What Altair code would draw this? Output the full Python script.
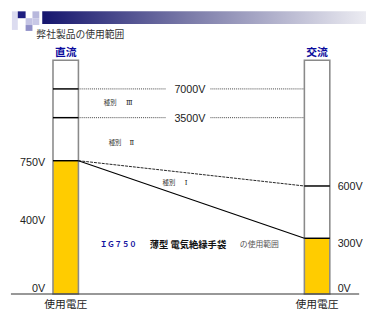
import altair as alt
import pandas as pd

# ---------------- data ----------------
columns = ["直流", "交流"]
column_caption = "使用電圧"
column_top_v = 10000
fill_top_v = [750, 300]
dc_levels = [7000, 3500, 750]
ac_levels = [600, 300]
dc_tick_v = [750, 400, 0]
dc_tick_text = ["750V", "400V", "0V"]
ac_tick_v = [600, 300, 0]
ac_tick_text = ["600V", "300V", "0V"]
guide_v = [7000, 3500]
guide_text = ["7000V", "3500V"]
slope_start_v = 750
slope_end_v = [600, 300]
class_word = ["種別", "種別", "種別"]
class_num = ["Ⅲ", "Ⅱ", "Ⅰ"]
class_v = [5250, 1900, 620]
title_text = "弊社製品の使用範囲"
product_code = "ＩＧ７５０"
product_name = "薄型 電気絶縁手袋"
product_tail = "の使用範囲"
product_v = 262

# ---------------- layout ----------------
W, H = 366, 306
col_x0 = [46, 303]
col_x1 = [72, 329]
col_cx = [59, 316]
guide_seg_x = [(72, 162), (207, 303)]
guide_label_x = 186
dc_label_x = 38
ac_label_x = 337
tick_dy_dc = [2, 1, -5]
tick_dy_ac = [1.5, 6, -5]
class_x = [98, 103, 158]
class_num_x = [124, 126.5, 182]
product_x = [94, 145, 237]

JP = "Noto Sans CJK JP"
LAT = "Liberation Sans"
SER = "DejaVu Serif"

px = alt.Scale(domain=[0, W], range=[0, W])
py = alt.Scale(domain=[0, H], range=[0, H])
vy = alt.Scale(domain=[0, 400, 750, 3500, 7000, 10000],
               range=[289, 213, 152.7, 108.7, 79.3, 50], nice=False, zero=False)


def X(f):
    return alt.X(f, type="quantitative", scale=px, axis=None)


def YV(f):
    return alt.Y(f, type="quantitative", scale=vy, axis=None)


def YP(f):
    return alt.Y(f, type="quantitative", scale=py, axis=None)


layers = []

# header decoration
deco = pd.DataFrame({
    "x": [4, 10, 18, 18, 25, 25],
    "x2": [10, 18, 25, 25, 32, 32],
    "y": [0, 0, 7, 14, 0, 7],
    "y2": [19, 7, 14, 20, 7, 14],
    "c": ["#dcdcf0", "#1e1e80", "#c4c4e4", "#9090c8", "#b8b8dc", "#c8c8e6"],
})
layers.append(alt.Chart(deco).mark_rect().encode(
    x=X("x"), x2="x2", y=YP("y"), y2="y2",
    color=alt.Color("c:N", scale=None)))

bar = pd.DataFrame({"x": [35], "x2": [W], "y": [0], "y2": [13]})
layers.append(alt.Chart(bar).mark_rect(fill={
    "gradient": "linear", "x1": 0, "x2": 1, "y1": 0, "y2": 0,
    "stops": [{"offset": 0, "color": "#16166e"},
              {"offset": 0.45, "color": "#7a7aa8"},
              {"offset": 1, "color": "#ececf2"}]}).encode(
    x=X("x"), x2="x2", y=YP("y"), y2="y2"))

# title
layers.append(alt.Chart(pd.DataFrame({"t": [title_text], "x": [29], "y": [24]})).mark_text(
    align="left", baseline="middle", font=JP, fontSize=10, color="#333333").encode(
    x=X("x"), y=YP("y"), text="t:N"))

# columns
cols = pd.DataFrame({"name": columns, "x0": col_x0, "x1": col_x1, "cx": col_cx,
                     "zero": [0, 0], "fill": fill_top_v, "top": [column_top_v] * 2,
                     "cap": [column_caption] * 2, "hy": [43, 43], "cy": [300, 300]})
layers.append(alt.Chart(cols).mark_rect(color="#FFCC00").encode(
    x=X("x0"), x2="x1", y=YV("zero"), y2="fill"))
layers.append(alt.Chart(cols).mark_rect(fillOpacity=0, stroke="#8a8a8a", strokeWidth=1.6).encode(
    x=X("x0"), x2="x1", y=YV("zero"), y2="top"))
layers.append(alt.Chart(cols).mark_text(font=JP, fontSize=11, fontWeight="bold",
                                        color="#0a0a9c", baseline="middle").encode(
    x=X("cx"), y=YP("hy"), text="name:N"))
layers.append(alt.Chart(cols).mark_text(font=JP, fontSize=11, color="#222222",
                                        baseline="middle").encode(
    x=X("cx"), y=YP("cy"), text="cap:N"))

# level lines inside columns
lv = pd.DataFrame({
    "x0": [col_x0[0]] * len(dc_levels) + [col_x0[1]] * len(ac_levels),
    "x1": [col_x1[0]] * len(dc_levels) + [col_x1[1]] * len(ac_levels),
    "v": dc_levels + ac_levels})
layers.append(alt.Chart(lv).mark_rule(color="black", strokeWidth=1.5).encode(
    x=X("x0"), x2="x1", y=YV("v")))

# dotted guides
g_rows = [{"xa": a, "xb": b, "v": v} for v in guide_v for (a, b) in guide_seg_x]
layers.append(alt.Chart(pd.DataFrame(g_rows)).mark_rule(
    color="#444444", strokeWidth=1, strokeDash=[1, 1]).encode(
    x=X("xa"), x2="xb", y=YV("v")))
layers.append(alt.Chart(pd.DataFrame({"v": guide_v, "t": guide_text,
                                      "x": [guide_label_x] * 2})).mark_text(
    font=LAT, fontSize=11, color="#222222", baseline="middle", dy=1).encode(
    x=X("x"), y=YV("v"), text="t:N"))

# slopes
sl = pd.DataFrame({"x": [col_x1[0]] * 2, "x2": [col_x0[1]] * 2,
                   "v": [slope_start_v] * 2, "v2": slope_end_v})
layers.append(alt.Chart(sl.iloc[[0]]).mark_rule(color="#222222", strokeWidth=1,
                                                strokeDash=[3, 1]).encode(
    x=X("x"), x2="x2", y=YV("v"), y2="v2"))
layers.append(alt.Chart(sl.iloc[[1]]).mark_rule(color="black", strokeWidth=1.2).encode(
    x=X("x"), x2="x2", y=YV("v"), y2="v2"))

# baseline
layers.append(alt.Chart(pd.DataFrame({"x": [3], "x2": [359], "v": [0]})).mark_rule(
    color="#333333", strokeWidth=1.2).encode(x=X("x"), x2="x2", y=YV("v")))

# tick labels
for v, t, d in zip(dc_tick_v, dc_tick_text, tick_dy_dc):
    layers.append(alt.Chart(pd.DataFrame({"v": [v], "t": [t], "x": [dc_label_x]})).mark_text(
        font=LAT, fontSize=11, color="#222222", align="right", baseline="middle", dy=d).encode(
        x=X("x"), y=YV("v"), text="t:N"))
for v, t, d in zip(ac_tick_v, ac_tick_text, tick_dy_ac):
    layers.append(alt.Chart(pd.DataFrame({"v": [v], "t": [t], "x": [ac_label_x]})).mark_text(
        font=LAT, fontSize=11, color="#222222", align="left", baseline="middle", dy=d).encode(
        x=X("x"), y=YV("v"), text="t:N"))

# class labels
cl = pd.DataFrame({"w": class_word, "n": class_num, "v": class_v,
                   "x": class_x, "xn": class_num_x})
layers.append(alt.Chart(cl).mark_text(
    font=JP, fontSize=6.5, color="#333333", align="left", baseline="middle").encode(
    x=X("x"), y=YV("v"), text="w:N"))
layers.append(alt.Chart(cl).mark_text(
    font=SER, fontSize=7, color="#222222", align="center", baseline="middle").encode(
    x=X("xn"), y=YV("v"), text="n:N"))

# product caption
layers.append(alt.Chart(pd.DataFrame({"t": [product_code], "v": [product_v], "x": [product_x[0]]})).mark_text(
    font=JP, fontSize=7.5, fontWeight="bold", color="#1414a0", align="left", baseline="middle").encode(
    x=X("x"), y=YV("v"), text="t:N"))
layers.append(alt.Chart(pd.DataFrame({"t": [product_name], "v": [product_v], "x": [product_x[1]]})).mark_text(
    font=JP, fontSize=9.5, fontWeight="bold", color="#111111", align="left", baseline="middle").encode(
    x=X("x"), y=YV("v"), text="t:N"))
layers.append(alt.Chart(pd.DataFrame({"t": [product_tail], "v": [product_v], "x": [product_x[2]]})).mark_text(
    font=JP, fontSize=8, color="#555555", align="left", baseline="middle").encode(
    x=X("x"), y=YV("v"), text="t:N"))

chart = (alt.layer(*layers)
         .resolve_scale(y="independent")
         .properties(width=W, height=H, padding=0, autosize="none", background="white")
         .configure_view(stroke=None))

chart.save("out.html", embed_options={"renderer": "svg", "actions": False})
